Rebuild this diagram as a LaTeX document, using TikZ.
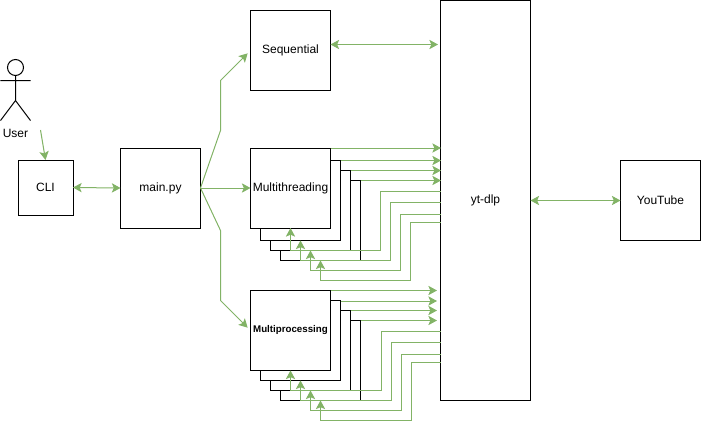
\documentclass[tikz,border=0pt]{standalone}
\usepackage{fontspec}
\setmainfont{Liberation Sans}
\usetikzlibrary{arrows.meta}

\definecolor{flowgreen}{RGB}{130,179,102}
\tikzset{every picture/.style={line width=0.75pt}}
\tikzset{
  box/.style={draw=black,fill=white,inner sep=0pt,outer sep=0pt,font=\fontsize{9}{11}\selectfont},
  flow/.style={draw=flowgreen,line width=0.75pt,-{Stealth[inset=1.5pt,length=6.5pt,width=7pt]}},
  flowboth/.style={flow,{Stealth[inset=1.5pt,length=6.5pt,width=7pt]}-{Stealth[inset=1.5pt,length=6.5pt,width=7pt]}},
}

\begin{document}
\begin{tikzpicture}[x=0.75pt,y=0.75pt,yscale=-1]
\useasboundingbox (0,0) rectangle (701,429);

%Actor
\draw (15.5,67.5) circle [radius=6pt];
\draw (15.5,75.5) -- (15.5,100.5) (0.5,80.5) -- (30.5,80.5) (0.5,120.5) -- (15.5,100.5) -- (30.5,120.5);
\node [font=\fontsize{9}{11}\selectfont] (user) at (15.5,133.5) {User};
\coordinate (userout) at (40.5,130);

%Boxes
\node [box,minimum width=41.25pt,minimum height=41.25pt] (cli) at (45.5,187.5) {CLI};
\node [box,minimum width=60pt,minimum height=60pt] (main) at (160.5,188) {main.py};
\node [box,minimum width=60pt,minimum height=60pt] (seq) at (290.5,50.5) {Sequential};
\node [box,minimum width=67.5pt,minimum height=300pt] (ytdlp) at (485.5,200.5) {yt-dlp};
\node [box,minimum width=60pt,minimum height=60pt] (yt) at (660.5,200.5) {YouTube};

%Multithreading stack
\foreach \i/\cx/\cy in {4/320.5/220.5,3/310.5/210.5,2/300.5/200.5}
  \node [box,minimum width=60pt,minimum height=60pt] (mt\i) at (\cx,\cy) {};
\node [box,minimum width=60pt,minimum height=60pt] (mt1) at (290.5,188) {Multithreading};

%Multiprocessing stack
\foreach \i/\cx/\cy in {4/320.5/360.5,3/310.5/350.5,2/300.5/340.5}
  \node [box,minimum width=60pt,minimum height=60pt] (mp\i) at (\cx,\cy) {};
\node [box,minimum width=60pt,minimum height=60pt,font=\fontsize{7.3}{9}\selectfont\bfseries] (mp1) at (290.5,330.5) {Multiprocessing};

%Straight Lines
\draw [flow] (userout) -- (cli.north);
\draw [flowboth] (cli.east) -- (main.west);
\draw [flow,shorten >=3pt] (main.east) -- (220.5,130.5) -- (220.5,80.5) -- (seq.west);
\draw [flow] (main.east) -- (mt1.west);
\draw [flow,shorten >=3pt] (main.east) -- (220.5,230.5) -- (220.5,300.5) -- (mp1.west);
\draw [flowboth] (330.5,44.5) -- (438,44.5);
\draw [flowboth] (ytdlp.east |- yt.west) -- (yt.west);

%Multithreading to yt-dlp and back
\foreach \i/\yo in {1/148,2/160.5,3/170.5,4/180.5}
  \draw [flow] (mt\i.east |- 0,\yo) -- (441,\yo);
\foreach \i/\yr/\xr/\yb in {1/191.5/380.5/250.5,2/202.5/390.5/260.5,3/214.5/400.5/270.5,4/222.5/410.5/280.5}
  \draw [flow] (ytdlp.west |- 0,\yr) -| (\xr,\yb) -| (mt\i.south);

%Multiprocessing to yt-dlp and back
\foreach \i/\yo in {1/290.5,2/301,3/310.5,4/320.5}
  \draw [flow] (mp\i.east |- 0,\yo) -- (437,\yo);
\foreach \i/\yr/\xr/\yb in {1/331.5/381.5/390.5,2/342.5/391.5/400.5,3/354.5/401.5/410.5,4/362.5/411.5/420.5}
  \draw [flow] (ytdlp.west |- 0,\yr) -| (\xr,\yb) -| (mp\i.south);
\end{tikzpicture}
\end{document}
